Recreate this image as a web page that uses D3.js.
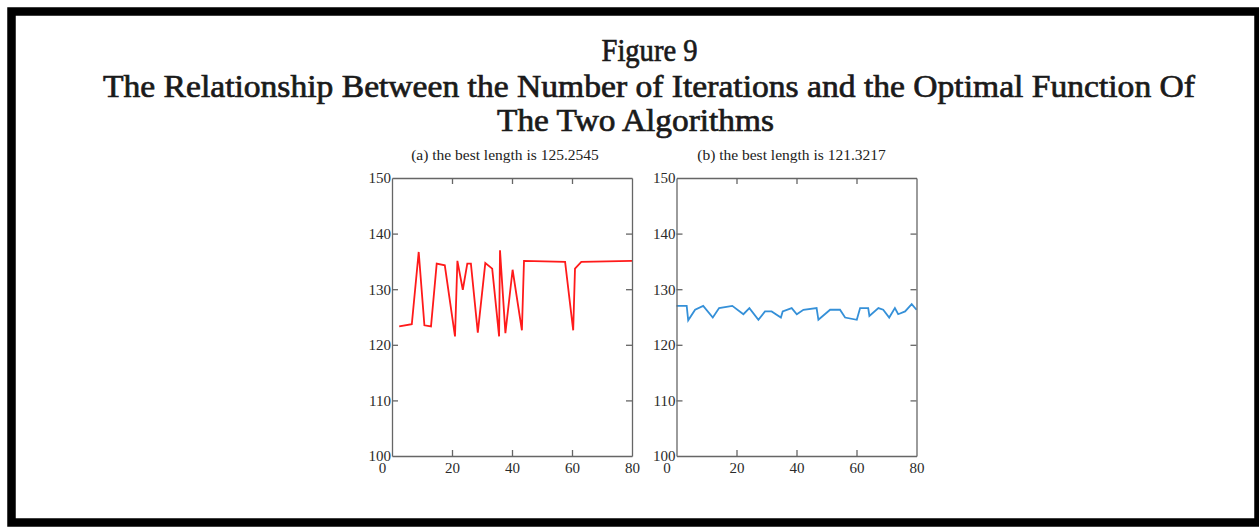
<!DOCTYPE html>
<html>
<head>
<meta charset="utf-8">
<script src="https://cdn.jsdelivr.net/npm/d3@7"></script>
<style>
  body { margin: 0; background: #fff; }
  .tick text { font-family: 'Liberation Serif', 'Times New Roman', serif; font-size: 15px; fill: #2a2a2a; }
</style>
</head>
<body>
<script>
  // values
  const figTitle = 'Figure 9';
  const titleLines = [
    'The Relationship Between the Number of Iterations and the Optimal Function Of',
    'The Two Algorithms',
  ];
  const subtitles = ['(a) the best length is 125.2545', '(b) the best length is 121.3217'];
  const xTicks = [0, 20, 40, 60, 80];
  const yTicks = [100, 110, 120, 130, 140, 150];

  const iterA = [2.4, 6.6, 8.9, 10.8, 13.0, 14.9, 17.6, 21.0, 21.8, 23.6, 25.1, 26.3, 28.6,
    31.1, 33.4, 35.7, 36.0, 37.8, 40.2, 43.3, 44.0, 57.7, 60.4, 61.0, 63.1, 80];
  const lengthA = [123.3, 123.7, 136.7, 123.5, 123.3, 134.6, 134.3, 121.5, 135.1, 129.9, 134.6, 134.6, 122.2,
    134.7, 133.7, 121.5, 137.0, 122.1, 133.5, 122.6, 135.1, 134.9, 122.6, 133.7, 134.9, 135.1];

  const iterB = [0, 3.4, 3.9, 6.2, 8.9, 12.1, 14.2, 18.6, 22.3, 24.3, 27.3, 29.5, 31.7, 34.8, 35.4,
    38.4, 40.1, 42.3, 46.7, 47.3, 51.2, 54.5, 56.2, 60.1, 61.2, 63.9, 64.3, 67.3, 68.9,
    70.9, 72.8, 73.9, 76.2, 78.4, 80];
  const lengthB = [127.0, 127.0, 124.4, 126.3, 127.0, 124.9, 126.6, 127.0, 125.5, 126.6, 124.5, 126.0, 126.0, 124.9, 126.0,
    126.6, 125.5, 126.3, 126.6, 124.5, 126.3, 126.3, 124.9, 124.5, 126.6, 126.6, 125.2, 126.6, 126.3,
    124.9, 126.6, 125.5, 126.0, 127.3, 126.3];

  const width = 1259;
  const height = 527;
  const serif = "'Liberation Serif', 'Times New Roman', serif";

  const svg = d3.select('body').append('svg')
    .attr('width', width)
    .attr('height', height);

  svg.append('rect').attr('width', width).attr('height', height).attr('fill', '#fff');

  // thick black frame
  svg.append('rect')
    .attr('x', 11.5).attr('y', 11.5)
    .attr('width', 1247).attr('height', 511)
    .attr('fill', 'none')
    .attr('stroke', '#000')
    .attr('stroke-width', 8.5);

  const titleRows = [
    { text: figTitle, x: 649.5, y: 61, len: 96 },
    { text: titleLines[0], x: 649, y: 97, len: 1092 },
    { text: titleLines[1], x: 635.5, y: 131, len: 277 },
  ];
  svg.selectAll('text.title')
    .data(titleRows)
    .enter()
    .append('text')
    .attr('class', 'title')
    .attr('x', (d) => d.x)
    .attr('y', (d) => d.y)
    .attr('text-anchor', 'middle')
    .attr('textLength', (d) => d.len)
    .attr('lengthAdjust', 'spacingAndGlyphs')
    .style('font-family', serif)
    .style('font-size', '32px')
    .style('fill', '#1a1a1a')
    .style('stroke', '#1a1a1a')
    .style('stroke-width', 0.7)
    .text((d) => d.text);

  const panelTop = 178;
  const panelBottom = 456;
  const panelW = 240;

  const y = d3.scaleLinear().domain([100, 150]).range([panelBottom, panelTop]);

  function drawPanel(left, xs, ys, color, subtitle, subShift) {
    const x = d3.scaleLinear().domain([0, 80]).range([left, left + panelW]);
    const g = svg.append('g');

    g.append('text')
      .attr('x', left + panelW / 2 + subShift)
      .attr('y', 160)
      .attr('text-anchor', 'middle')
      .style('font-family', serif)
      .style('font-size', '15.5px')
      .style('fill', '#222')
      .text(subtitle);

    const line = d3.line()
      .x((d, i) => x(xs[i]))
      .y((d) => y(d));
    g.append('path')
      .datum(ys)
      .attr('d', line)
      .attr('fill', 'none')
      .attr('stroke', color)
      .attr('stroke-width', 1.8)
      .attr('stroke-linejoin', 'miter');

    const left_ = g.append('g').attr('transform', `translate(${left},0)`)
      .call(d3.axisLeft(y).tickValues(yTicks).tickFormat(d3.format('d'))
        .tickSizeInner(-6).tickSizeOuter(0).tickPadding(1));
    const right_ = g.append('g').attr('transform', `translate(${left + panelW},0)`)
      .call(d3.axisRight(y).tickValues(yTicks).tickFormat('')
        .tickSizeInner(-6).tickSizeOuter(0));
    const top_ = g.append('g').attr('transform', `translate(0,${panelTop})`)
      .call(d3.axisTop(x).tickValues(xTicks).tickFormat('')
        .tickSizeInner(-6).tickSizeOuter(0));
    const bottom_ = g.append('g').attr('transform', `translate(0,${panelBottom})`)
      .call(d3.axisBottom(x).tickValues(xTicks).tickFormat(d3.format('d'))
        .tickSizeInner(-6).tickSizeOuter(0).tickPadding(6));

    // "0" sits under the "100" label in the original
    bottom_.selectAll('.tick text')
      .filter((d) => d === 0)
      .attr('dx', -10);

    [left_, right_, top_, bottom_].forEach((a) => {
      a.select('.domain').attr('stroke', '#666').attr('stroke-width', 1.3);
      a.selectAll('.tick line').attr('stroke', '#666').attr('stroke-width', 1.3);
    });
    top_.selectAll('.tick').filter((d) => d === 0 || d === 80).select('line').remove();
    bottom_.selectAll('.tick').filter((d) => d === 0 || d === 80).select('line').remove();
    left_.selectAll('.tick').filter((d) => d === 100 || d === 150).select('line').remove();
    right_.selectAll('.tick').filter((d) => d === 100 || d === 150).select('line').remove();
  }

  drawPanel(392, iterA, lengthA, '#ff1a1a', subtitles[0], -7);
  drawPanel(676.5, iterB, lengthB, '#3590d8', subtitles[1], -5);
</script>
</body>
</html>
